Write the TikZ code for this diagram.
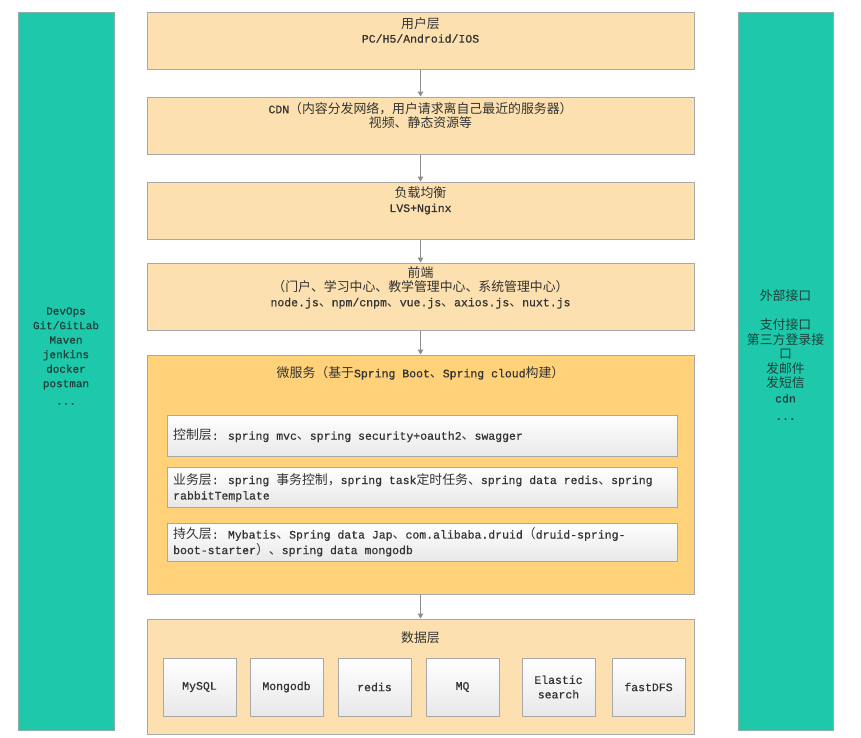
\documentclass[tikz,border=0pt]{standalone}
\usepackage{fontspec}
\setmainfont{Liberation Mono}[FakeBold=0.6, BoldFont=Liberation Mono]
\setmonofont{Liberation Mono}
\newfontfamily\cjkfont{Noto Sans CJK SC}[Scale=1.12]
\newcommand\zh[1]{{\cjkfont\mdseries #1}}
\usetikzlibrary{arrows.meta}
\definecolor{tealside}{HTML}{1EC9AB}
\definecolor{peach}{HTML}{FCE0AF}
\definecolor{gold}{HTML}{FFD27A}
\definecolor{edgegray}{HTML}{A8A8A8}
\definecolor{txt}{HTML}{333333}
\definecolor{sidetxt}{HTML}{1F3F3A}
\definecolor{arrgray}{HTML}{8C8C8C}
\tikzset{
  mainbox/.style={draw=edgegray, line width=1pt, fill=peach, inner sep=0pt},
  goldbox/.style={draw=edgegray, line width=1pt, fill=gold, inner sep=0pt},
  sidebox/.style={draw=edgegray!80!tealside, line width=0.8pt, fill=tealside, inner sep=0pt},
  innerbox/.style={draw=edgegray, line width=1pt, top color=white, bottom color=black!9, inner sep=0pt},
  lbl/.style={align=center, text=txt, inner sep=0pt, font=\bfseries\fontsize{11.5}{14.5}\selectfont},
  innerlbl/.style={align=left, text=txt, inner sep=0pt, anchor=west, font=\bfseries\fontsize{11.5}{15.5}\selectfont},
  sidelbl/.style={align=center, text=sidetxt, inner sep=0pt, font=\bfseries\fontsize{11}{14.5}\selectfont},
  arr/.style={draw=arrgray, line width=1.4pt, -{Triangle[length=5pt,width=5.5pt]}}
}
\begin{document}
\begin{tikzpicture}[x=1pt,y=-1pt]
\useasboundingbox[fill=white] (0,0) rectangle (861,737);
% sidebars
\node[sidebox, minimum width=96pt, minimum height=718pt] (left) at (66,371) {};
\node[sidebox, minimum width=95pt, minimum height=718pt] (right) at (785.5,371) {};
\node[sidelbl] (leftt) at (66,356) {DevOps\\Git/GitLab\\Maven\\jenkins\\docker\\postman\\[3pt]...};
\node[sidelbl, font=\bfseries\fontsize{11.5}{14.5}\selectfont] (rightt) at (785.5,355) {\zh{外部接口}\\ \\\zh{支付接口}\\\zh{第三方登录接}\\\zh{口}\\\zh{发邮件}\\\zh{发短信}\\cdn\\[3pt]...};
% main column
\node[mainbox, minimum width=547pt, minimum height=57pt] (user) at (420.5,40.5) {};
\node[lbl] (usert) at (420.5,30) {\zh{用户层}\\PC/H5/Android/IOS};
\node[mainbox, minimum width=547pt, minimum height=57pt] (cdn) at (420.5,125.5) {};
\node[lbl] (cdnt) at (420.5,115.5) {CDN\zh{（内容分发网络，用户请求离自己最近的服务器）}\\\zh{视频、静态资源等}};
\node[mainbox, minimum width=547pt, minimum height=57pt] (lb) at (420.5,210.5) {};
\node[lbl] (lbt) at (420.5,200.5) {\zh{负载均衡}\\LVS+Nginx};
\node[mainbox, minimum width=547pt, minimum height=67pt] (front) at (420.5,296.5) {};
\node[lbl] (frontt) at (420.5,287.5) {\zh{前端}\\\zh{（门户、学习中心、教学管理中心、系统管理中心）}\\node.js\zh{、}npm/cnpm\zh{、}vue.js\zh{、}axios.js\zh{、}nuxt.js};
% microservices
\node[goldbox, minimum width=547pt, minimum height=239pt] (micro) at (420.5,474.5) {};
\node[lbl] (microt) at (420.5,373) {\zh{微服务（基于}Spring Boot\zh{、}Spring cloud\zh{构建）}};
\node[innerbox, minimum width=510pt, minimum height=41pt] (ctrl) at (422,435.5) {};
\node[innerlbl] (ctrlt) at (173,435.5) {\zh{控制层}: spring mvc\zh{、}spring security+oauth2\zh{、}swagger};
\node[innerbox, minimum width=510pt, minimum height=40pt] (biz) at (422,487) {};
\node[innerlbl] (bizt) at (173,487.5) {\zh{业务层}: spring \zh{事务控制，}spring task\zh{定时任务、}spring data redis\zh{、}spring\\rabbitTemplate};
\node[innerbox, minimum width=510pt, minimum height=38pt] (pers) at (422,542) {};
\node[innerlbl] (perst) at (173,542) {\zh{持久层}: Mybatis\zh{、}Spring data Jap\zh{、}com.alibaba.druid\zh{（}druid-spring-\\boot-starter\zh{）、}spring data mongodb};
% data layer
\node[mainbox, minimum width=547pt, minimum height=115pt] (data) at (420.5,676.5) {};
\node[lbl] (datat) at (420.5,638) {\zh{数据层}};
\node[innerbox, minimum width=73pt, minimum height=58pt] (mysql) at (199.5,687) {};
\node[lbl] (mysqlt) at (mysql) {MySQL};
\node[innerbox, minimum width=73pt, minimum height=58pt] (mongo) at (286.5,687) {};
\node[lbl] (mongot) at (mongo) {Mongodb};
\node[innerbox, minimum width=73pt, minimum height=58pt] (redis) at (374.5,687) {};
\node[lbl] (redist) at (redis) {redis};
\node[innerbox, minimum width=73pt, minimum height=58pt] (mq) at (462.5,687) {};
\node[lbl] (mqt) at (mq) {MQ};
\node[innerbox, minimum width=73pt, minimum height=58pt] (es) at (558.5,687) {};
\node[lbl] (est) at (es) {Elastic\\search};
\node[innerbox, minimum width=73pt, minimum height=58pt] (fdfs) at (648.5,687) {};
\node[lbl] (fdfst) at (fdfs) {fastDFS};
% arrows
\draw[arr] (user.south) -- (cdn.north);
\draw[arr] (cdn.south) -- (lb.north);
\draw[arr] (lb.south) -- (front.north);
\draw[arr] (front.south) -- (micro.north);
\draw[arr] (micro.south) -- (data.north);
\end{tikzpicture}
\end{document}
